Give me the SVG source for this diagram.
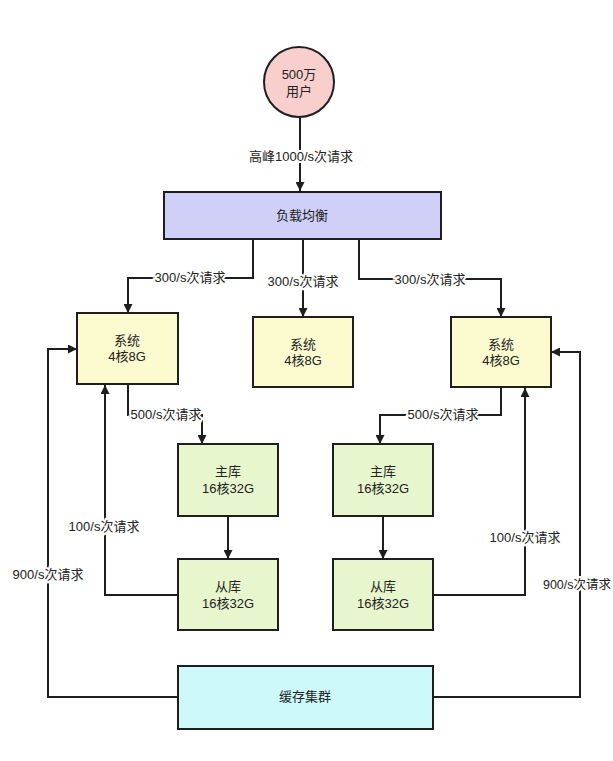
<svg xmlns="http://www.w3.org/2000/svg" width="613" height="761" viewBox="0 0 613 761">
<style>
.n{stroke:#1e1e1e;stroke-width:2}
.t{font-family:"Liberation Sans","Noto Sans CJK SC",sans-serif;font-size:13px;fill:#222;text-anchor:middle}
.l{font-family:"Liberation Sans","Noto Sans CJK SC",sans-serif;font-size:13px;fill:#222;text-anchor:middle;stroke:#fff;stroke-width:4;paint-order:stroke}
.c{fill:none;stroke:#1e1e1e;stroke-width:2}
</style>
<defs>
<marker id="a" viewBox="0 0 10 10" refX="10" refY="5" markerWidth="9" markerHeight="9" markerUnits="userSpaceOnUse" orient="auto">
<path d="M0,0 L10,5 L0,10 z" fill="#1e1e1e"/>
</marker>
</defs>
<rect width="613" height="761" fill="#fff"/>
<g id="connectors">
<path class="c" d="M300,117 V191" marker-end="url(#a)"/>
<path class="c" d="M253,240 V278 H128 V313" marker-end="url(#a)"/>
<path class="c" d="M303,240 V317" marker-end="url(#a)"/>
<path class="c" d="M359,240 V279 H501 V317" marker-end="url(#a)"/>
<path class="c" d="M128,385 V415 H202 V444" marker-end="url(#a)"/>
<path class="c" d="M501,388 V415 H380 V444" marker-end="url(#a)"/>
<path class="c" d="M228,516 V559" marker-end="url(#a)"/>
<path class="c" d="M383,516 V559" marker-end="url(#a)"/>
<path class="c" d="M178,595 H105 V385" marker-end="url(#a)"/>
<path class="c" d="M433,595 H525 V388" marker-end="url(#a)"/>
<path class="c" d="M178,697 H48 V349 H77" marker-end="url(#a)"/>
<path class="c" d="M433,697 H580 V352 H551" marker-end="url(#a)"/>
<text class="l" x="301" y="161">高峰1000/s次请求</text>
<text class="l" x="190" y="282">300/s次请求</text>
<text class="l" x="303" y="286">300/s次请求</text>
<text class="l" x="430" y="284">300/s次请求</text>
<text class="l" x="166" y="419">500/s次请求</text>
<text class="l" x="443" y="419">500/s次请求</text>
<text class="l" x="104" y="531">100/s次请求</text>
<text class="l" x="525" y="542">100/s次请求</text>
<text class="l" x="48" y="579">900/s次请求</text>
<text class="l" x="577" y="589" style="font-size:12.5px">900/s次请求</text>
</g>
<g id="users">
<circle class="n" cx="299" cy="82" r="35" fill="#f8cfcc"/>
<text class="t" x="299" y="79">500万</text>
<text class="t" x="299" y="96">用户</text>
</g>
<g id="lb">
<rect class="n" x="164" y="192" width="277" height="47" fill="#cfcff7"/>
<text class="t" x="302" y="220">负载均衡</text>
</g>
<g id="sys1">
<rect class="n" x="77" y="313" width="101" height="71" fill="#fcfbcf"/>
<text class="t" x="127" y="345">系统</text>
<text class="t" x="127" y="361">4核8G</text>
</g>
<g id="sys2">
<rect class="n" x="253" y="317" width="100" height="70" fill="#fcfbcf"/>
<text class="t" x="303" y="349">系统</text>
<text class="t" x="303" y="365">4核8G</text>
</g>
<g id="sys3">
<rect class="n" x="451" y="317" width="100" height="70" fill="#fcfbcf"/>
<text class="t" x="501" y="349">系统</text>
<text class="t" x="501" y="365">4核8G</text>
</g>
<g id="master1">
<rect class="n" x="178" y="444" width="100" height="72" fill="#e7f6cd"/>
<text class="t" x="228" y="476">主库</text>
<text class="t" x="228" y="493">16核32G</text>
</g>
<g id="master2">
<rect class="n" x="333" y="444" width="100" height="72" fill="#e7f6cd"/>
<text class="t" x="383" y="476">主库</text>
<text class="t" x="383" y="493">16核32G</text>
</g>
<g id="slave1">
<rect class="n" x="178" y="559" width="100" height="71" fill="#e7f6cd"/>
<text class="t" x="228" y="591">从库</text>
<text class="t" x="228" y="608">16核32G</text>
</g>
<g id="slave2">
<rect class="n" x="333" y="559" width="100" height="71" fill="#e7f6cd"/>
<text class="t" x="383" y="591">从库</text>
<text class="t" x="383" y="608">16核32G</text>
</g>
<g id="cache">
<rect class="n" x="178" y="666" width="255" height="63" fill="#cdf9fb"/>
<text class="t" x="305" y="701">缓存集群</text>
</g>
</svg>
